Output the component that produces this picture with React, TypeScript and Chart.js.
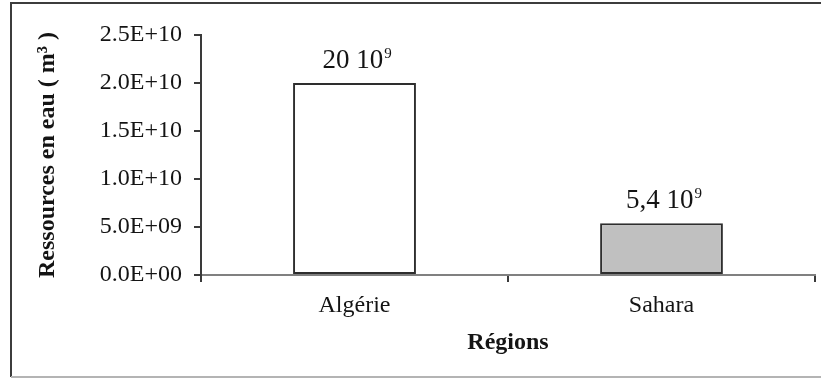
import React, { useEffect, useRef } from "react";
import { Chart, registerables } from "chart.js";

Chart.register(...registerables);

// Water resources by region (m³)
const regions: string[] = ["Algérie", "Sahara"];
const resources: number[] = [20e9, 5.4e9];
const barFills: string[] = ["#ffffff", "#c0c0c0"];

// Y axis range and step
const yMin = 0;
const yMax = 2.5e10;
const yStep = 5e9;

const yTitle = "Ressources en eau ( m³ )";
const xTitle = "Régions";

const SERIF = '"Liberation Serif", "Times New Roman", serif';
const INK = "#141414";

// 2.5E+10 style labels
function sciLabel(v: number): string {
  if (v === 0) return "0.0E+00";
  const e = Math.floor(Math.log10(Math.abs(v)) + 1e-9);
  const m = v / Math.pow(10, e);
  return m.toFixed(1) + "E" + (e < 0 ? "-" : "+") + String(Math.abs(e)).padStart(2, "0");
}

// "20 10⁹" style value labels, mantissa in units of 10⁹ with a decimal comma
function mantissa(v: number): string {
  const n = v / 1e9;
  const s = Number.isInteger(n) ? String(n) : n.toFixed(1);
  return s.replace(".", ",");
}

const framePlugin = {
  id: "frame",
  beforeDraw(chart: any) {
    const { ctx, width, height } = chart;
    ctx.save();
    ctx.fillStyle = "#ffffff";
    ctx.fillRect(0, 0, width, height);
    ctx.lineWidth = 2;
    ctx.strokeStyle = "#3c3c3c";
    ctx.beginPath();
    ctx.moveTo(11, 377);
    ctx.lineTo(11, 3);
    ctx.lineTo(width, 3);
    ctx.stroke();
    ctx.strokeStyle = "#b4b4b4";
    ctx.beginPath();
    ctx.moveTo(11, 377);
    ctx.lineTo(width, 377);
    ctx.stroke();
    ctx.restore();
  },
};

const valueLabelPlugin = {
  id: "valueLabels",
  afterDatasetsDraw(chart: any) {
    const { ctx } = chart;
    const meta = chart.getDatasetMeta(0);
    const data = chart.data.datasets[0].data as number[];
    ctx.save();
    ctx.fillStyle = INK;
    ctx.textBaseline = "alphabetic";
    ctx.textAlign = "left";
    meta.data.forEach((bar: any, i: number) => {
      const main = mantissa(data[i]) + " 10";
      const sup = "9";
      ctx.font = `27px ${SERIF}`;
      const wMain = ctx.measureText(main).width;
      ctx.font = `15px ${SERIF}`;
      const wSup = ctx.measureText(sup).width;
      const x0 = bar.x - (wMain + wSup) / 2 + 2;
      const base = bar.y - 15;
      ctx.font = `27px ${SERIF}`;
      ctx.fillText(main, x0, base);
      ctx.font = `15px ${SERIF}`;
      ctx.fillText(sup, x0 + wMain + 1, base - 10);
    });
    ctx.restore();
  },
};

export default function App() {
  const canvasRef = useRef<HTMLCanvasElement | null>(null);

  useEffect(() => {
    if (!canvasRef.current) return;
    const chart = new Chart(canvasRef.current, {
      type: "bar",
      data: {
        labels: regions,
        datasets: [
          {
            data: resources,
            backgroundColor: barFills,
            borderColor: "#2e2e2e",
            borderWidth: 2,
            borderSkipped: false,
            barPercentage: 0.4,
            categoryPercentage: 1,
          },
        ],
      },
      options: {
        responsive: false,
        animation: false,
        layout: { padding: { top: 35, right: 6, left: 0, bottom: 0 } },
        plugins: {
          legend: { display: false },
          tooltip: { enabled: false },
        },
        scales: {
          x: {
            afterFit: (scale: any) => {
              scale.height = 103;
            },
            grid: {
              offset: true,
              drawOnChartArea: false,
              drawTicks: true,
              tickLength: 7,
              color: "#3a3a3a",
              lineWidth: 2,
            },
            border: { display: true, color: "#808080", width: 2 },
            ticks: {
              color: INK,
              padding: 9,
              font: { family: SERIF, size: 24 },
            },
            title: {
              display: true,
              text: xTitle,
              color: INK,
              font: { family: SERIF, size: 24, weight: "bold" },
              padding: { top: 0, bottom: 21 },
            },
          },
          y: {
            min: yMin,
            max: yMax,
            afterFit: (scale: any) => {
              scale.width = 201;
            },
            ticks: {
              stepSize: yStep,
              color: INK,
              padding: 12,
              font: { family: SERIF, size: 24 },
              callback: (v: any) => sciLabel(Number(v)),
            },
            grid: {
              drawOnChartArea: false,
              drawTicks: true,
              tickLength: 7,
              color: "#3a3a3a",
              lineWidth: 2,
            },
            border: { display: true, color: "#3a3a3a", width: 2 },
            title: {
              display: true,
              text: yTitle,
              color: INK,
              font: { family: SERIF, size: 24, weight: "bold" },
              padding: { top: 33, bottom: 0 },
            },
          },
        },
      },
      plugins: [framePlugin, valueLabelPlugin],
    });
    return () => chart.destroy();
  }, []);

  return (
    <div style={{ position: "fixed", left: 0, top: 0, width: 821, height: 378 }}>
      <canvas ref={canvasRef} width={821} height={378} style={{ display: "block" }} />
    </div>
  );
}
